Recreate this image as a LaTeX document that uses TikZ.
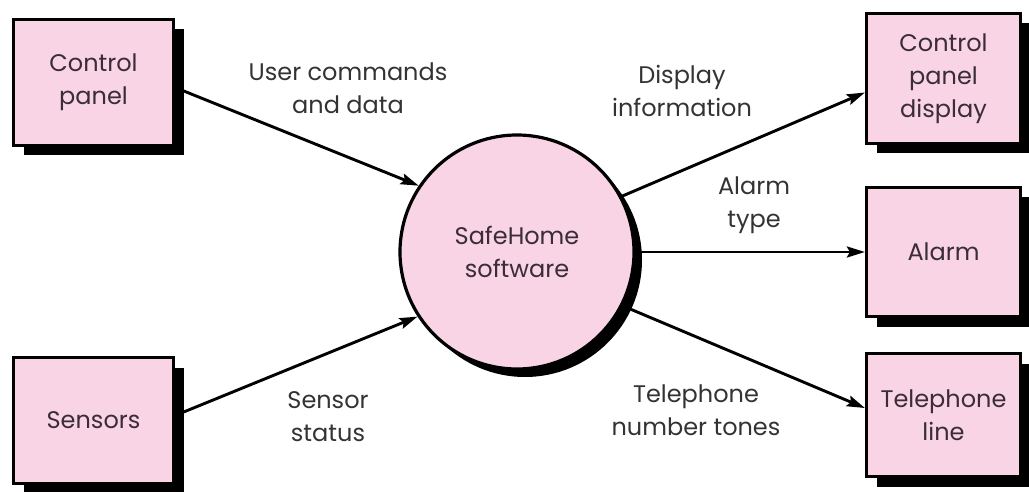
\documentclass[tikz,border=0pt]{standalone}
\usepackage{fontspec}
\setmainfont{Poppins}
\usetikzlibrary{positioning,calc,shadows,arrows.meta}
\definecolor{boxpink}{RGB}{248,212,228}
\definecolor{inktext}{RGB}{58,44,56}

\begin{document}
\begin{tikzpicture}[
    x=1pt, y=1pt,
    every node/.style={align=center, inner sep=0pt, font=\fontsize{24}{33}\selectfont, text=inktext},
    entity/.style={draw=black, line width=3.2pt, fill=boxpink, minimum width=160pt, minimum height=126pt,
      drop shadow={shadow xshift=10pt, shadow yshift=-10pt, fill=black, opacity=1}},
    process/.style={circle, draw=black, line width=3.2pt, fill=boxpink, minimum size=234pt,
      drop shadow={shadow xshift=8pt, shadow yshift=-8pt, fill=black, opacity=1}},
    flowlabel/.style={text=black!80},
    flow/.style={->, line width=2.9pt},
    >={Stealth[length=18pt, width=11pt, inset=3pt]}
  ]
  \useasboundingbox (0,0) rectangle (1029,491);
  \node[process] (safe) at (517,239) {SafeHome\\software};
  % external entities
  \node[entity] (panel) at (93.5,408.5) {Control\\panel};
  \node[entity] (sensors) at (93.5,70.5) {Sensors};
  \node[entity, minimum width=154pt, minimum height=130pt] (display) at (943.5,412.5) {Control\\panel\\display};
  \node[entity, minimum width=154pt, minimum height=129pt] (alarm) at (943.5,239) {Alarm};
  \node[entity, minimum width=154pt, minimum height=123pt] (phone) at (943.5,76) {Telephone\\line};
  % flows
  \draw[flow] ([yshift=-5pt]panel.east) -- (safe.146);
  \draw[flow] ([yshift=5pt]sensors.east) -- (safe.213);
  \draw[flow] (safe.28) -- ([yshift=-14pt]display.west);
  \draw[flow] (safe.east) -- (alarm.west);
  \draw[flow] (safe.-27) -- ([yshift=7pt]phone.west);
  % flow labels
  \node[flowlabel] (cmdlbl) at (348,403) {User commands\\and data};
  \node[flowlabel] (displbl) at (682,400) {Display\\information};
  \node[flowlabel] (alarmlbl) at (754,286) {Alarm\\type};
  \node[flowlabel] (tonelbl) at (696,81) {Telephone\\number tones};
  \node[flowlabel] (statlbl) at (328,74) {Sensor\\status};
\end{tikzpicture}
\end{document}
